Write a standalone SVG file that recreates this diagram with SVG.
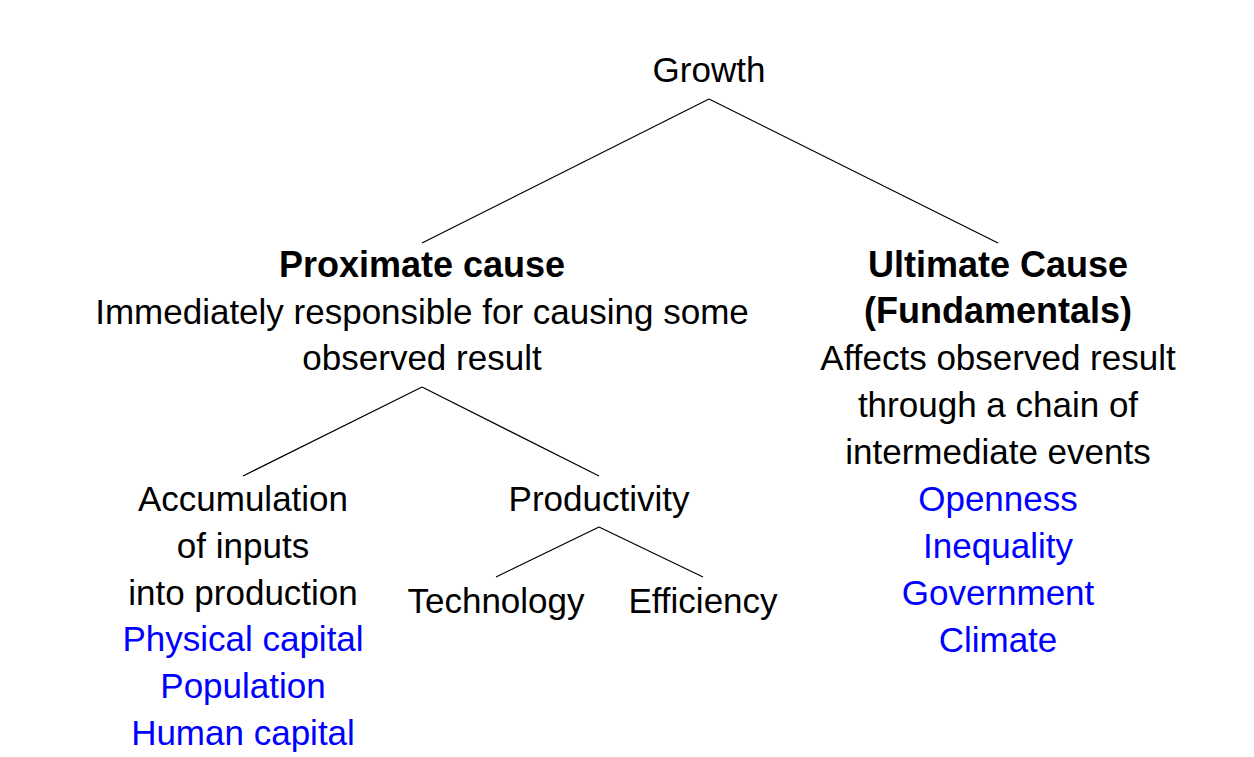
<svg xmlns="http://www.w3.org/2000/svg" width="1254" height="757" viewBox="0 0 1254 757">
<style>
text{font-family:"Liberation Sans",Arial,sans-serif;font-size:35px;text-anchor:middle;fill:#000}
.b{font-weight:bold;font-size:36px}
.blue{fill:#0000ff}
line{stroke:#000;stroke-width:1.2}
</style>
<rect width="1254" height="757" fill="#fff"/>
<g id="connectors">
<line x1="709" y1="99" x2="422" y2="243"/>
<line x1="709" y1="99" x2="998" y2="243"/>
<line x1="422" y1="387" x2="243" y2="476"/>
<line x1="422" y1="387" x2="599" y2="476"/>
<line x1="599" y1="527" x2="496" y2="577"/>
<line x1="599" y1="527" x2="703" y2="577"/>
</g>
<g id="growth"><text x="709" y="82">Growth</text></g>
<g id="proximate">
<text class="b" x="422" y="277">Proximate cause</text>
<text x="422" y="324">Immediately responsible for causing some</text>
<text x="422" y="370">observed result</text>
</g>
<g id="ultimate">
<text class="b" x="998" y="277">Ultimate Cause</text>
<text class="b" x="998" y="323">(Fundamentals)</text>
<text x="998" y="370">Affects observed result</text>
<text x="998" y="417">through a chain of</text>
<text x="998" y="464">intermediate events</text>
<text class="blue" x="998" y="511">Openness</text>
<text class="blue" x="998" y="558">Inequality</text>
<text class="blue" x="998" y="605">Government</text>
<text class="blue" x="998" y="652">Climate</text>
</g>
<g id="accumulation">
<text x="243" y="511">Accumulation</text>
<text x="243" y="558">of inputs</text>
<text x="243" y="605">into production</text>
<text class="blue" x="243" y="651">Physical capital</text>
<text class="blue" x="243" y="698">Population</text>
<text class="blue" x="243" y="745">Human capital</text>
</g>
<g id="productivity"><text x="599" y="511">Productivity</text></g>
<g id="technology"><text x="496" y="613">Technology</text></g>
<g id="efficiency"><text x="703" y="613">Efficiency</text></g>
</svg>
